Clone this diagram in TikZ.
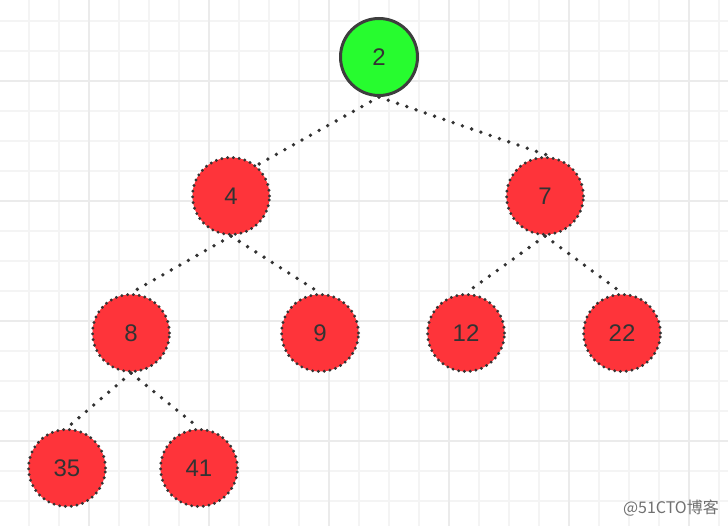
\documentclass[tikz,border=0pt]{standalone}
\usepackage{fontspec}
\setmainfont{Liberation Sans}
\newfontfamily\cjk{Noto Sans CJK SC}
\definecolor{nodered}{HTML}{FE343A}
\definecolor{nodegreen}{HTML}{27FC2F}
\definecolor{dotgray}{HTML}{333333}
\definecolor{bordergray}{HTML}{3E3E3E}
\definecolor{txtgray}{HTML}{333333}
\definecolor{minorgrid}{HTML}{F4F4F4}
\definecolor{majorgrid}{HTML}{EBEBEB}
\definecolor{wmgray}{HTML}{707070}
\pgfdeclarelayer{gridlayer}
\pgfdeclarelayer{edgelayer}
\pgfsetlayers{gridlayer,edgelayer,main}
\begin{document}
\begin{tikzpicture}[x=1pt,y=-1pt,
  heapnode/.style={circle, minimum size=77pt, inner sep=0pt,
    font=\fontsize{24}{24}\selectfont, text=txtgray},
  rednode/.style={heapnode, fill=nodered, draw=dotgray, line width=3.2pt,
    line cap=round, dash pattern=on 0pt off 5.8pt},
  greennode/.style={heapnode, fill=nodegreen, draw=bordergray, line width=3pt},
  link/.style={draw=dotgray, line width=3.8pt, line cap=round,
    dash pattern=on 0pt off 9.8pt},
  minorline/.style={draw=minorgrid, line width=2pt},
  majorline/.style={draw=majorgrid, line width=2pt}]
\useasboundingbox (0,0) rectangle (728,526);
\begin{pgfonlayer}{gridlayer}
  \fill[white] (0,0) rectangle (728,526);
  \foreach \x in {29,59,...,719} \draw[minorline] (\x,0) -- (\x,526);
  \foreach \y in {21,51,...,501} \draw[minorline] (0,\y) -- (728,\y);
  \foreach \x in {89,209,...,689} \draw[majorline] (\x,0) -- (\x,526);
  \foreach \y in {81,201,321,441} \draw[majorline] (0,\y) -- (728,\y);
\end{pgfonlayer}

\node[greennode] (n2) at (379,57) {2};
\node[rednode] (n4) at (231,196) {4};
\node[rednode] (n7) at (545,196) {7};
\node[rednode] (n8) at (131,333) {8};
\node[rednode] (n9) at (320,333) {9};
\node[rednode] (n12) at (466,333) {12};
\node[rednode] (n22) at (622,333) {22};
\node[rednode] (n35) at (67,468) {35};
\node[rednode] (n41) at (199,468) {41};

\begin{pgfonlayer}{edgelayer}
  \draw[link] (n2.south) -- (n4.50);
  \draw[link] (n2.south) -- (n7.82);
  \draw[link] (n4.south) -- (n8.north);
  \draw[link] (n4.south) -- (n9.north);
  \draw[link] (n7.south) -- (n12.north);
  \draw[link] (n7.south) -- (n22.north);
  \draw[link] (n8.south) -- (n35.north);
  \draw[link] (n8.south) -- (n41.north);
\end{pgfonlayer}

\node[anchor=east, inner sep=0pt, text=wmgray, font=\cjk\fontsize{16}{16}\selectfont] (wm) at (719,508) {@51CTO博客};
\end{tikzpicture}
\end{document}
